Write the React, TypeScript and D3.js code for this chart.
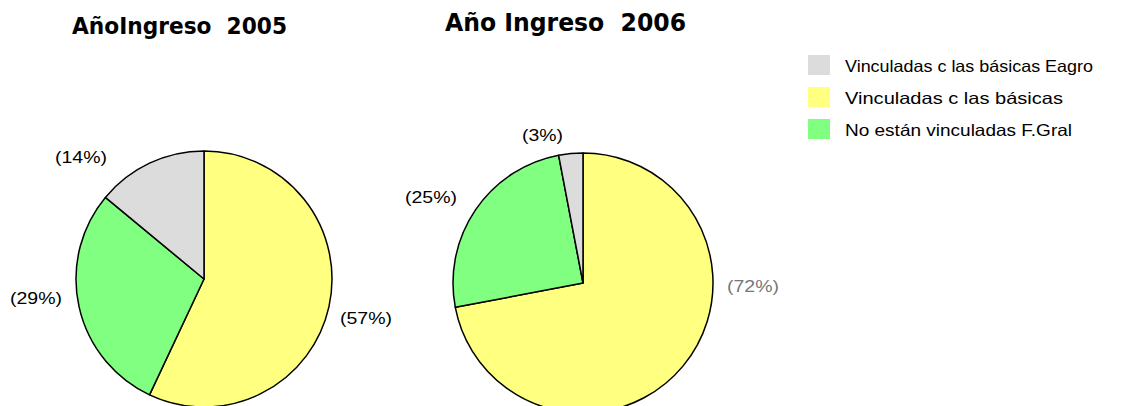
import React from 'react';
import * as d3 from 'd3';

// Slices in drawing order (clockwise from 12 o'clock)
const categories = ['Vinculadas c las básicas', 'No están vinculadas F.Gral', 'Vinculadas c las básicas Eagro'];
const values2005 = [57, 29, 14];
const values2006 = [72, 25, 3];
const legendLabels = ['Vinculadas c las básicas Eagro', 'Vinculadas c las básicas', 'No están vinculadas F.Gral'];
const titles = ['AñoIngreso  2005', 'Año Ingreso  2006'];

const colorOf: Record<string, string> = {
  'Vinculadas c las básicas': '#ffff80',
  'No están vinculadas F.Gral': '#80ff80',
  'Vinculadas c las básicas Eagro': '#dcdcdc',
};

const legendWidths = [248, 218, 227];

// label placement per pie
const labelPos2005 = [
  { x: 340, y: 324, w: 52, fill: '#000' },
  { x: 10, y: 304, w: 52, fill: '#000' },
  { x: 55, y: 163, w: 52, fill: '#000' },
];
const labelPos2006 = [
  { x: 727, y: 292, w: 52, fill: '#777' },
  { x: 405, y: 203, w: 52, fill: '#000' },
  { x: 522, y: 141, w: 41, fill: '#000' },
];

function Pie({ values, cx, cy, r, labels }: { values: number[]; cx: number; cy: number; r: number; labels: typeof labelPos2005 }) {
  const pie = d3.pie<number>().sort(null).value(d => d);
  const arc = d3.arc<d3.PieArcDatum<number>>().innerRadius(0).outerRadius(r);
  const arcs = pie(values);
  return (
    <g>
      <g transform={`translate(${cx},${cy})`}>
        {arcs.map((a, i) => (
          <path key={i} d={arc(a) || ''} fill={colorOf[categories[i]]} stroke="#000" strokeWidth={1.5} strokeLinejoin="round" />
        ))}
      </g>
      {arcs.map((a, i) => (
        <text key={i} x={labels[i].x} y={labels[i].y} fontSize={17} textLength={labels[i].w} lengthAdjust="spacingAndGlyphs"
          fill={labels[i].fill} fontFamily="'Liberation Sans', Arial, sans-serif">
          ({values[i]}%)
        </text>
      ))}
    </g>
  );
}

export default function App() {
  return (
    <svg width={1135} height={406} style={{ position: 'absolute', left: 0, top: 0, background: '#fff' }}>
      <rect width={1135} height={406} fill="#fff" />
      <text x={72} y={34} fontSize={23} fontWeight="bold" fontFamily="'DejaVu Sans Condensed', 'DejaVu Sans', sans-serif" fill="#000"
        textLength={215} lengthAdjust="spacingAndGlyphs" style={{ whiteSpace: 'pre' }}>
        {titles[0]}
      </text>
      <text x={445} y={31} fontSize={24} fontWeight="bold" fontFamily="'DejaVu Sans Condensed', 'DejaVu Sans', sans-serif" fill="#000"
        textLength={241} lengthAdjust="spacingAndGlyphs" style={{ whiteSpace: 'pre' }}>
        {titles[1]}
      </text>
      <Pie values={values2005} cx={204} cy={279} r={128} labels={labelPos2005} />
      <Pie values={values2006} cx={583} cy={283} r={130} labels={labelPos2006} />
      <g fontFamily="'Liberation Sans', Arial, sans-serif" fontSize={16.5}>
        {legendLabels.map((l, i) => (
          <g key={l} transform={`translate(808,${55 + i * 32})`}>
            <rect width={22} height={20} fill={colorOf[l]} />
            <text x={37} y={17} fill="#000" textLength={legendWidths[i]} lengthAdjust="spacingAndGlyphs">{l}</text>
          </g>
        ))}
      </g>
    </svg>
  );
}
